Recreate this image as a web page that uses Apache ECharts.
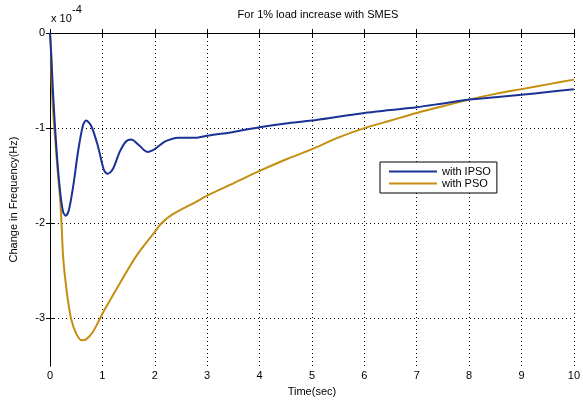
<!DOCTYPE html>
<html>
<head>
<meta charset="utf-8">
<script src="https://cdn.jsdelivr.net/npm/echarts@6/dist/echarts.min.js"></script>
<style>
  html, body { margin: 0; padding: 0; background: #fff; }
  #chart { width: 583px; height: 402px; }
</style>
</head>
<body>
<div id="chart"></div>
<script>
// values in units of 1e-4 Hz
const timeIpso = [0, 0.03, 0.06, 0.125, 0.19, 0.25, 0.3, 0.36, 0.44, 0.54, 0.63, 0.69, 0.79, 0.92, 1.03, 1.1, 1.2, 1.33, 1.45, 1.55, 1.7, 1.86, 2.0, 2.2, 2.45, 2.8, 3.0, 3.5, 4.0, 4.5, 5.0, 5.5, 6.0, 6.5, 7.0, 7.5, 8.0, 8.5, 9.0, 9.5, 10]
const ipso = [0, -0.3, -0.65, -1.23, -1.65, -1.88, -1.92, -1.86, -1.62, -1.23, -0.97, -0.92, -0.98, -1.2, -1.44, -1.48, -1.43, -1.25, -1.14, -1.12, -1.18, -1.25, -1.22, -1.14, -1.1, -1.1, -1.08, -1.04, -0.99, -0.95, -0.92, -0.88, -0.84, -0.81, -0.78, -0.74, -0.70, -0.675, -0.65, -0.62, -0.59]

const timePso = [0, 0.02, 0.03, 0.06, 0.095, 0.145, 0.19, 0.22, 0.25, 0.3, 0.35, 0.41, 0.5, 0.6, 0.69, 0.82, 1.03, 1.26, 1.64, 2.0, 2.13, 2.33, 2.77, 3.0, 3.5, 4.0, 4.5, 5.0, 5.5, 6.0, 6.5, 7.0, 7.5, 8.0, 8.5, 9.0, 9.5, 10]
const pso = [0, -0.18, -0.5, -0.84, -1.09, -1.44, -1.72, -2.0, -2.35, -2.63, -2.84, -3.02, -3.16, -3.23, -3.22, -3.14, -2.92, -2.7, -2.35, -2.09, -2.0, -1.91, -1.78, -1.71, -1.58, -1.45, -1.33, -1.22, -1.1, -1.0, -0.92, -0.84, -0.77, -0.70, -0.64, -0.59, -0.54, -0.49]

const yTicks = [0, -1, -2, -3]
const seriesNames = ['with IPSO', 'with PSO']

const chart = echarts.init(document.getElementById('chart'))
const font = 'Liberation Sans, Arial, sans-serif'

const option = {
  animation: false,
  textStyle: { fontFamily: font },
  title: {
    text: 'For 1% load increase with SMES',
    left: 313,
    textAlign: 'center',
    top: 4,
    textStyle: { fontSize: 11, fontWeight: 'normal', color: '#000', fontFamily: font }
  },
  graphic: [
    { type: 'text', left: 51, top: 13, style: { text: 'x 10', fontSize: 11, fill: '#000', fontFamily: font } },
    { type: 'text', left: 72, top: 4, style: { text: '-4', fontSize: 11, fill: '#000', fontFamily: font } }
  ],
  legend: {
    data: seriesNames,
    orient: 'vertical',
    left: 380,
    top: 162,
    padding: [4, 6, 4, 9],
    itemGap: 1,
    itemWidth: 48,
    itemHeight: 2,
    icon: 'rect',
    backgroundColor: '#fff',
    borderColor: '#000',
    borderWidth: 1,
    textStyle: { fontSize: 11, color: '#000', fontFamily: font }
  },
  grid: { left: 50, right: 6, top: 33, bottom: 35 },
  xAxis: [
    {
      type: 'value', min: 0, max: 10, interval: 1,
      name: 'Time(sec)', nameLocation: 'middle', nameGap: 20,
      nameTextStyle: { fontSize: 11, color: '#000' },
      axisLine: { lineStyle: { color: '#000', width: 1 } },
      axisTick: { inside: true, length: 4, lineStyle: { color: '#000' } },
      axisLabel: { fontSize: 11, color: '#000', margin: 4 },
      splitLine: { show: true, lineStyle: { color: '#000', type: [1, 3], width: 1 } }
    },
    {
      type: 'value', min: 0, max: 10, interval: 1, position: 'top',
      axisLine: { lineStyle: { color: '#000', width: 1 } },
      axisTick: { inside: true, length: 4, lineStyle: { color: '#000' } },
      axisLabel: { show: false },
      splitLine: { show: false }
    }
  ],
  yAxis: [
    {
      type: 'value', min: -3.5, max: 0,
      name: 'Change in Frequency(Hz)', nameLocation: 'middle', nameGap: 31,
      nameTextStyle: { fontSize: 11, color: '#000' },
      axisLine: { show: true, lineStyle: { color: '#000', width: 1 } },
      axisTick: { show: true, inside: true, length: 4, customValues: yTicks, lineStyle: { color: '#000' } },
      axisLabel: { fontSize: 11, color: '#000', margin: 5, customValues: yTicks },
      splitLine: { show: true, lineStyle: { color: '#000', type: [1, 3], width: 1 } }
    },
    {
      type: 'value', min: -3.5, max: 0, position: 'right',
      axisLine: { show: true, lineStyle: { color: '#000', width: 1 } },
      axisTick: { show: true, inside: true, length: 4, customValues: yTicks, lineStyle: { color: '#000' } },
      axisLabel: { show: false },
      splitLine: { show: false }
    }
  ],
  series: [
    {
      name: seriesNames[0],
      type: 'line',
      smooth: 0.3,
      showSymbol: false,
      data: timeIpso.map((t, i) => [t, ipso[i]]),
      lineStyle: { color: '#1a3296', width: 2 },
      itemStyle: { color: '#1a3296' },
      z: 3
    },
    {
      name: seriesNames[1],
      type: 'line',
      smooth: 0.3,
      showSymbol: false,
      data: timePso.map((t, i) => [t, pso[i]]),
      lineStyle: { color: '#c48e10', width: 2 },
      itemStyle: { color: '#c48e10' },
      z: 2
    }
  ]
}

chart.setOption(option)
</script>
</body>
</html>
